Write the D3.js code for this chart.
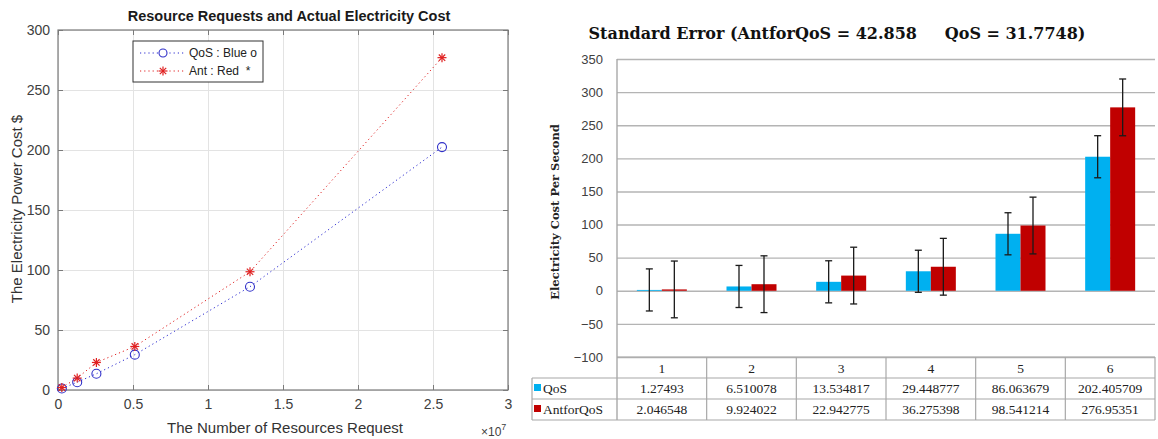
<!DOCTYPE html>
<html lang="en">
<head>
<meta charset="utf-8">
<title>Resource requests and electricity cost</title>
<script src="https://cdn.jsdelivr.net/npm/d3@7"></script>
<style>
body { margin: 0; background: #fff; }
svg { display: block; }
.ml text { font-family: "Liberation Sans", Arial, sans-serif; }
.ml .tick text { fill: #404040; font-size: 14px; }
.ml .domain { display: none; }
.grid line { stroke: #e3e3e3; stroke-width: 1px; }
.grid .domain { display: none; }
.bars .tick text { font-family: "Liberation Sans", Arial, sans-serif; font-size: 13px; fill: #404040; }
.cell { font-family: "Liberation Serif", "DejaVu Serif", serif; font-size: 13.5px; fill: #222; }
</style>
</head>
<body>
<script>
// data
var categories = ["1", "2", "3", "4", "5", "6"];
var requests = [256000, 1280000, 2560000, 5120000, 12800000, 25600000];
var qosCost = [1.27493, 6.510078, 13.534817, 29.448777, 86.063679, 202.405709];
var antCost = [2.046548, 9.924022, 22.942775, 36.275398, 98.541214, 276.95351];
var qosSE = 31.7748;
var antSE = 42.858;
var leftXTicks = [0, 5e6, 1e7, 1.5e7, 2e7, 2.5e7, 3e7];
var leftYTicks = [0, 50, 100, 150, 200, 250, 300];
var rightYTicks = [-100, -50, 0, 50, 100, 150, 200, 250, 300, 350];

var svg = d3.select("body").append("svg").attr("width", 1158).attr("height", 439);

// ---------- left chart (matlab style) ----------
var L = svg.append("g").attr("class", "ml");
var lx = d3.scaleLinear().domain([0, 3e7]).range([58, 508]);
var ly = d3.scaleLinear().domain([0, 300]).range([390, 30]);

L.append("g").attr("class", "grid").attr("transform", "translate(0,390)")
  .call(d3.axisBottom(lx).tickValues(leftXTicks).tickSize(-360).tickFormat(""));
L.append("g").attr("class", "grid").attr("transform", "translate(58,0)")
  .call(d3.axisLeft(ly).tickValues(leftYTicks).tickSize(-450).tickFormat(""));

L.append("rect").attr("x", 58).attr("y", 30).attr("width", 450).attr("height", 360)
  .attr("fill", "none").attr("stroke", "#7a7a7a").attr("stroke-width", 1.2);

L.append("g").attr("transform", "translate(0,390)")
  .call(d3.axisBottom(lx).tickValues(leftXTicks).tickSizeInner(-5).tickSizeOuter(0).tickPadding(9)
    .tickFormat(function(d) { return d / 1e7; }));
L.append("g").attr("transform", "translate(0,30)")
  .call(d3.axisTop(lx).tickValues(leftXTicks).tickSizeInner(-5).tickSizeOuter(0).tickFormat(""));
L.append("g").attr("transform", "translate(58,0)")
  .call(d3.axisLeft(ly).tickValues(leftYTicks).tickSizeInner(-5).tickSizeOuter(0).tickPadding(8));
L.append("g").attr("transform", "translate(508,0)")
  .call(d3.axisRight(ly).tickValues(leftYTicks).tickSizeInner(-5).tickSizeOuter(0).tickFormat(""));
L.selectAll(".tick line").attr("stroke", "#7a7a7a");

L.append("text").attr("x", 289).attr("y", 21).attr("text-anchor", "middle")
  .attr("font-size", "14.5px").attr("font-weight", "bold").attr("fill", "#1a1a1a")
  .text("Resource Requests and Actual Electricity Cost");
L.append("text").attr("x", 285).attr("y", 433).attr("text-anchor", "middle")
  .attr("font-size", "15px").attr("fill", "#333").text("The Number of Resources Request");
L.append("text").attr("transform", "translate(22,209) rotate(-90)").attr("text-anchor", "middle")
  .attr("font-size", "15px").attr("fill", "#333").text("The Electricity Power Cost $");
var ex = L.append("text").attr("x", 481).attr("y", 436).attr("font-size", "12px").attr("fill", "#404040");
ex.append("tspan").text("\u00d710");
ex.append("tspan").attr("dy", -6).attr("font-size", "9px").text("7");

var lineQ = d3.line().x(function(d, i) { return lx(requests[i]); }).y(function(d) { return ly(d); });
L.append("path").datum(qosCost).attr("d", lineQ).attr("fill", "none")
  .attr("stroke", "#2a2ad0").attr("stroke-width", 1).attr("stroke-dasharray", "1.2,3");
L.append("path").datum(antCost).attr("d", lineQ).attr("fill", "none")
  .attr("stroke", "#e02020").attr("stroke-width", 1).attr("stroke-dasharray", "1.2,3");

function star(g, x, y, r) {
  for (var k = 0; k < 4; k++) {
    var a = k * Math.PI / 4;
    g.append("line").attr("x1", x - r * Math.cos(a)).attr("y1", y - r * Math.sin(a))
      .attr("x2", x + r * Math.cos(a)).attr("y2", y + r * Math.sin(a))
      .attr("stroke", "#e02020").attr("stroke-width", 1.2);
  }
}
L.selectAll("circle.q").data(qosCost).enter().append("circle").attr("class", "q")
  .attr("cx", function(d, i) { return lx(requests[i]); }).attr("cy", function(d) { return ly(d); })
  .attr("r", 4.5).attr("fill", "none").attr("stroke", "#3030c8").attr("stroke-width", 1.1);
antCost.forEach(function(d, i) { star(L, lx(requests[i]), ly(d), 4.5); });

// legend
L.append("rect").attr("x", 133).attr("y", 41).attr("width", 130).attr("height", 41)
  .attr("fill", "#fff").attr("stroke", "#333").attr("stroke-width", 1);
L.append("line").attr("x1", 140).attr("x2", 184).attr("y1", 53).attr("y2", 53)
  .attr("stroke", "#2a2ad0").attr("stroke-dasharray", "1.2,3");
L.append("circle").attr("cx", 163).attr("cy", 53).attr("r", 4).attr("fill", "#fff")
  .attr("stroke", "#3030c8").attr("stroke-width", 1.1);
L.append("line").attr("x1", 140).attr("x2", 184).attr("y1", 71).attr("y2", 71)
  .attr("stroke", "#e02020").attr("stroke-dasharray", "1.2,3");
L.append("rect").attr("x", 158).attr("y", 66).attr("width", 10).attr("height", 10).attr("fill", "#fff");
star(L, 163, 71, 4.5);
L.append("text").attr("x", 189).attr("y", 57).attr("font-size", "12px").attr("fill", "#222")
  .style("white-space", "pre").text("QoS : Blue o");
L.append("text").attr("x", 189).attr("y", 75).attr("font-size", "12px").attr("fill", "#222")
  .style("white-space", "pre").text("Ant : Red  *");

// ---------- right chart (bars + table) ----------
var R = svg.append("g").attr("class", "bars");
var bx = d3.scaleBand().domain(categories).range([617, 1155]);
var sub = d3.scaleBand().domain(["QoS", "AntforQoS"]).range([-25, 25]);
var by = d3.scaleLinear().domain([-100, 350]).range([357, 59]);

var yg = R.append("g").attr("transform", "translate(617,0)")
  .call(d3.axisLeft(by).tickValues(rightYTicks).tickSize(-538).tickPadding(14));
yg.select(".domain").remove();
yg.selectAll(".tick line").attr("stroke", "#b4b4b4").attr("stroke-width", 1.4);
R.append("line").attr("x1", 617).attr("x2", 617).attr("y1", 59).attr("y2", 420)
  .attr("stroke", "#a8a8a8").attr("stroke-width", 1.4);

var series = [
  { name: "QoS", values: qosCost, se: qosSE, color: "#00b0f0" },
  { name: "AntforQoS", values: antCost, se: antSE, color: "#c00000" }
];

series.forEach(function(s) {
  var cx = function(i) { return bx(categories[i]) + bx.bandwidth() / 2 + sub(s.name); };
  R.selectAll(null).data(s.values).enter().append("rect")
    .attr("x", function(d, i) { return cx(i); })
    .attr("y", function(d) { return by(d); })
    .attr("width", sub.bandwidth())
    .attr("height", function(d) { return by(0) - by(d); })
    .attr("fill", s.color);
});
series.forEach(function(s) {
  s.values.forEach(function(d, i) {
    var x = bx(categories[i]) + bx.bandwidth() / 2 + sub(s.name) + sub.bandwidth() / 2;
    var t = by(d + s.se), b = by(d - s.se);
    R.append("line").attr("x1", x).attr("x2", x).attr("y1", t).attr("y2", b)
      .attr("stroke", "#1a1a1a").attr("stroke-width", 1.3);
    [t, b].forEach(function(yy) {
      R.append("line").attr("x1", x - 3.5).attr("x2", x + 3.5).attr("y1", yy).attr("y2", yy)
        .attr("stroke", "#1a1a1a").attr("stroke-width", 1.3);
    });
  });
});

R.append("text").attr("x", 837).attr("y", 39).attr("text-anchor", "middle")
  .attr("font-family", "'DejaVu Serif', serif").attr("font-weight", "bold")
  .attr("font-size", "16px").attr("fill", "#111").style("white-space", "pre")
  .text("Standard Error (AntforQoS = 42.858     QoS = 31.7748)");
R.append("text").attr("transform", "translate(559,212) rotate(-90)").attr("text-anchor", "middle")
  .attr("font-family", "'DejaVu Serif', serif").attr("font-weight", "bold")
  .attr("font-size", "11.5px").attr("fill", "#222").text("Electricity Cost Per Second");

// data table
var rowY = [357, 378, 399, 420];
var tcol = "#a8a8a8";
R.append("line").attr("x1", 617).attr("x2", 1155).attr("y1", rowY[0]).attr("y2", rowY[0]).attr("stroke", tcol);
[1, 2, 3].forEach(function(k) {
  R.append("line").attr("x1", 532).attr("x2", 1155).attr("y1", rowY[k]).attr("y2", rowY[k])
    .attr("stroke", tcol).attr("stroke-width", 1.2);
});
R.append("line").attr("x1", 532).attr("x2", 532).attr("y1", rowY[1]).attr("y2", rowY[3]).attr("stroke", tcol).attr("stroke-width", 1.2);
categories.forEach(function(c) {
  var xr = bx(c) + bx.bandwidth();
  R.append("line").attr("x1", xr).attr("x2", xr).attr("y1", rowY[0]).attr("y2", rowY[3])
    .attr("stroke", tcol).attr("stroke-width", 1.2);
  R.append("text").attr("class", "cell").attr("x", bx(c) + bx.bandwidth() / 2).attr("y", 373)
    .attr("text-anchor", "middle").text(c);
});
series.forEach(function(s, k) {
  var yy = rowY[k + 1] + 15;
  R.append("rect").attr("x", 534).attr("y", yy - 9).attr("width", 7).attr("height", 7).attr("fill", s.color);
  R.append("text").attr("class", "cell").attr("x", 543).attr("y", yy).text(s.name);
  s.values.forEach(function(d, i) {
    R.append("text").attr("class", "cell").attr("x", bx(categories[i]) + bx.bandwidth() / 2).attr("y", yy)
      .attr("text-anchor", "middle").text(String(d));
  });
});
</script>
</body>
</html>
